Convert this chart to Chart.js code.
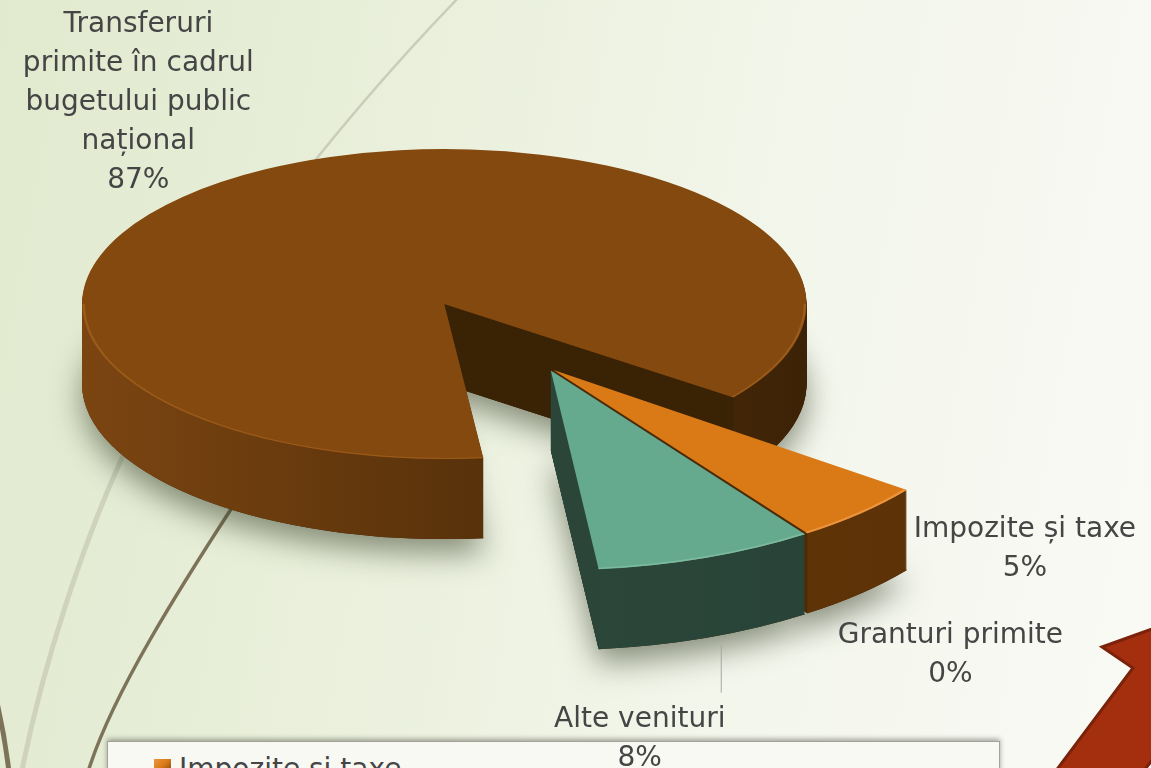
<!DOCTYPE html>
<html lang="ro">
<head>
<meta charset="utf-8">
<title>Structura veniturilor</title>
<script src="https://cdn.jsdelivr.net/npm/chart.js@4.4.1/dist/chart.umd.min.js"></script>
<style>
  html, body { margin: 0; padding: 0; }
  body {
    width: 1151px; height: 768px; overflow: hidden; position: relative;
    background: linear-gradient(100deg, #e1e9ce 0%, #eaf0dc 35%, #f3f6eb 65%, #f9faf5 100%);
    font-family: 'DejaVu Sans', sans-serif;
  }
  #decor, #chart { position: absolute; left: 0; top: 0; }
  #legend {
    position: absolute; left: 107px; top: 741px; width: 893px; height: 200px;
    box-sizing: border-box; background: #f8f9f3; border: 1px solid #a3a397;
    box-shadow: 0 -2px 5px rgba(60, 60, 50, .45);
  }
  #legend .item { position: absolute; left: 46px; height: 34px; line-height: 34px; font-size: 28px; color: #454545; white-space: nowrap; }
  #legend .box { position: absolute; left: 0; top: 7px; width: 17px; height: 17px; }
  #legend .txt { position: absolute; left: 25px; top: 0; }
</style>
</head>
<body>
<svg id="decor" width="1151" height="768">
  <path d="M -6 690 Q 4 730 9 772" stroke="#7c7358" stroke-width="5" fill="none"/>
  <path d="M 22 770 C 40 680, 80 540, 140 420" stroke="#cfd3bc" stroke-width="5" fill="none"/>
  <path d="M 140 420 C 200 300, 330 130, 462 -6" stroke="#cacdb9" stroke-width="2.5" fill="none"/>
  <path d="M 88 772 C 110 700, 170 600, 270 450" stroke="#7c7358" stroke-width="3.5" fill="none"/>
  <polygon points="1055,772 1133,668 1102,647 1260,590 1260,700 1180,723 1143,772" fill="#a32f0e" stroke="#7a220a" stroke-width="3"/>
</svg>
<div id="legend"></div>
<canvas id="chart" width="1151" height="768"></canvas>
<script>
const CATEGORIES = ['Impozite și taxe', 'Granturi primite', 'Alte venituri', 'Transferuri primite în cadrul bugetului public național'];
const SHARES = [5, 0, 8, 87];
const TOP_COLORS = ['#da7a17', '#9b8357', '#65a98e', '#84490e'];
const SIDE_COLORS = [['#6e3c09', '#5a3106'], ['#6d5c3c', '#5a4c31'], ['#31503f', '#263f35'], ['#7b4511', '#3c2206']];
const CUT_COLORS = ['#4a2a07', '#5a4c31', '#2b4539', '#3a2205'];
const EDGE_COLORS = ['#eb9540', '#b09a6c', '#7dbb9f', '#9a5b1c'];

// 3-D look of the pie: tilt of the disc, wall height, rough perspective
const TILT = 0.45, DEPTH = 80, PERSP = 0.426, PTILT = 0.118, OFFSET_TILT = 0.35;
const EXPLODE = [8, 0, 8, 210];
// label offset from the outer middle of each slice (centre x, first baseline)
const LABEL_SHIFT = [[164, 24], [150, 113], [-67, 169], [-127, -137]];
const LEADER = [null, null, [81, -82, -34], null];
const LINE_H = 39;

const PieBase = Chart.registry.getController('pie');

function sliceGeom(arc, i) {
  const mid = (arc.startAngle + arc.endAngle) / 2;
  const ex = Math.cos(mid) * EXPLODE[i], ey = Math.sin(mid) * EXPLODE[i];
  const d = ey / arc.outerRadius;
  return { mid, ex, ey, s: 1 + PERSP * d, tilt: TILT * (1 + PTILT * d) };
}

function place(ctx, arc, g, dy) {
  ctx.translate(arc.x + g.ex, arc.y + dy + g.ey * OFFSET_TILT);
  ctx.scale(g.s, g.s * g.tilt);
  ctx.translate(-arc.x, -arc.y);
}

function project(arc, g, r, a) {
  return [arc.x + g.ex + Math.cos(a) * r * g.s,
          arc.y + g.ey * OFFSET_TILT + Math.sin(a) * r * g.s * g.tilt];
}

function wedge(ctx, arc) {
  ctx.beginPath();
  ctx.moveTo(arc.x, arc.y);
  ctx.arc(arc.x, arc.y, arc.outerRadius, arc.startAngle, arc.endAngle);
  ctx.closePath();
}

// parts of the rim that face the viewer
function frontRanges(a0, a1) {
  const out = [];
  for (let k = -1; k <= 2; k++) {
    const lo = Math.max(a0, 2 * Math.PI * k), hi = Math.min(a1, 2 * Math.PI * k + Math.PI);
    if (hi > lo) out.push([lo, hi]);
  }
  return out;
}

class Pie3DController extends PieBase {
  draw() {
    const ctx = this.chart.ctx;
    const slices = this._cachedMeta.data
      .map((arc, i) => ({ arc, i, g: sliceGeom(arc, i) }))
      .filter(o => o.arc.circumference > 0)
      .sort((a, b) => Math.sin(a.g.mid) - Math.sin(b.g.mid));

    // soft shadow under the pie
    ctx.save();
    ctx.shadowColor = 'rgba(50, 58, 35, 0.55)';
    ctx.shadowBlur = 30;
    ctx.shadowOffsetY = 14;
    ctx.fillStyle = '#3c2206';
    slices.forEach(o => {
      ctx.save(); place(ctx, o.arc, o.g, DEPTH); wedge(ctx, o.arc); ctx.restore();
      ctx.fill();
    });
    ctx.restore();

    slices.forEach(({ arc, i, g }) => {
      const R = arc.outerRadius;
      const x0 = project(arc, g, R, Math.PI)[0], x1 = project(arc, g, R, 0)[0];
      const grad = ctx.createLinearGradient(x0, 0, x1, 0);
      grad.addColorStop(0, SIDE_COLORS[i][0]);
      grad.addColorStop(1, SIDE_COLORS[i][1]);
      ctx.save();
      ctx.fillStyle = grad;
      for (let t = DEPTH; t > 0; t--) {
        ctx.save(); place(ctx, arc, g, t); wedge(ctx, arc); ctx.restore();
        ctx.fill();
      }
      // radial cut faces that look towards the viewer
      ctx.fillStyle = CUT_COLORS[i];
      [[arc.startAngle, -1], [arc.endAngle, 1]].forEach(([a, side]) => {
        if (side * Math.cos(a) <= 0) return;
        const p = project(arc, g, 0, a), q = project(arc, g, R, a);
        ctx.beginPath();
        ctx.moveTo(p[0], p[1]); ctx.lineTo(q[0], q[1]);
        ctx.lineTo(q[0], q[1] + DEPTH); ctx.lineTo(p[0], p[1] + DEPTH);
        ctx.closePath(); ctx.fill();
      });
      ctx.restore();

      ctx.save();
      place(ctx, arc, g, 0);
      arc.draw(ctx);
      // thin bevel light on the front rim
      ctx.strokeStyle = EDGE_COLORS[i];
      ctx.lineWidth = 3;
      frontRanges(arc.startAngle, arc.endAngle).forEach(([lo, hi]) => {
        ctx.beginPath();
        ctx.arc(arc.x, arc.y, R - 2, lo, hi);
        ctx.stroke();
      });
      ctx.restore();
    });
  }
}
Pie3DController.id = 'pie3d';
Pie3DController.defaults = PieBase.defaults;
Chart.register(Pie3DController);

function wrap(ctx, text, maxW) {
  const out = [];
  let line = '';
  text.split(' ').forEach(w => {
    const test = line ? line + ' ' + w : w;
    if (line && ctx.measureText(test).width > maxW) { out.push(line); line = w; } else line = test;
  });
  out.push(line);
  return out;
}

const sliceLabels = {
  id: 'sliceLabels',
  afterDraw(chart) {
    const ctx = chart.ctx;
    const total = SHARES.reduce((a, b) => a + b, 0);
    ctx.save();
    ctx.font = '28px "DejaVu Sans"';
    ctx.fillStyle = '#454545';
    ctx.textAlign = 'center';
    chart.getDatasetMeta(0).data.forEach((arc, i) => {
      const g = sliceGeom(arc, i);
      const [ax, ay] = project(arc, g, arc.outerRadius, g.mid);
      const x = ax + LABEL_SHIFT[i][0], y = ay + LABEL_SHIFT[i][1];
      const lines = wrap(ctx, CATEGORIES[i], 240).concat(Math.round(SHARES[i] / total * 100) + '%');
      lines.forEach((l, k) => ctx.fillText(l, x, y + k * LINE_H));
      const ld = LEADER[i];
      if (ld) {
        ctx.strokeStyle = '#a6a6a6';
        ctx.lineWidth = 1;
        ctx.beginPath();
        ctx.moveTo(x + ld[0] + 0.5, y + ld[1]);
        ctx.lineTo(x + ld[0] + 0.5, y + ld[2]);
        ctx.stroke();
      }
    });
    ctx.restore();
  }
};

new Chart(document.getElementById('chart'), {
  type: 'pie3d',
  data: {
    labels: CATEGORIES,
    datasets: [{ data: SHARES, backgroundColor: TOP_COLORS, borderWidth: 0 }]
  },
  options: {
    responsive: false,
    animation: false,
    events: [],
    rotation: 127,
    radius: 440,
    layout: { padding: { left: 0, right: 55, top: 0, bottom: 32 } },
    plugins: { legend: { display: false }, tooltip: { enabled: false } }
  },
  plugins: [sliceLabels]
});

// legend box under the chart
const legend = document.getElementById('legend');
CATEGORIES.forEach((name, i) => {
  const item = document.createElement('div');
  item.className = 'item';
  item.style.top = (10 + i * 40) + 'px';
  const box = document.createElement('span');
  box.className = 'box';
  box.style.background = 'linear-gradient(135deg, ' + EDGE_COLORS[i] + ' 0%, ' + TOP_COLORS[i] + ' 45%, ' + SIDE_COLORS[i][0] + ' 100%)';
  const txt = document.createElement('span');
  txt.className = 'txt';
  txt.textContent = name;
  item.appendChild(box);
  item.appendChild(txt);
  legend.appendChild(item);
});
</script>
</body>
</html>
